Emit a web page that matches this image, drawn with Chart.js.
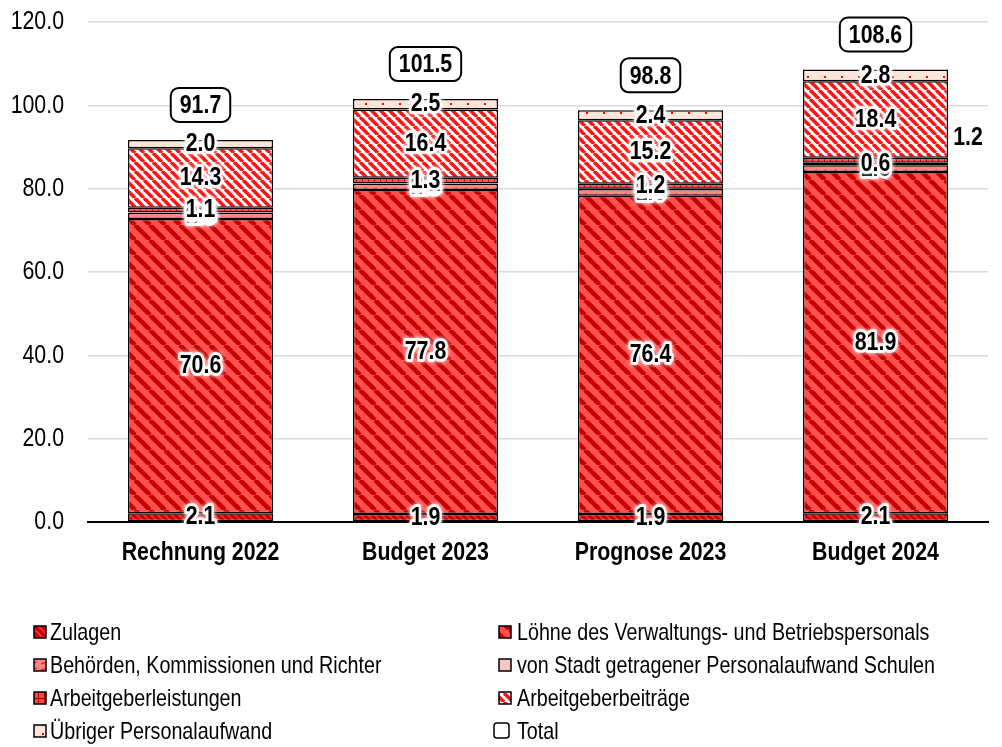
<!DOCTYPE html>
<html>
<head>
<meta charset="utf-8">
<script src="https://cdn.jsdelivr.net/npm/chart.js@4/dist/chart.umd.min.js"></script>
<style>
  html, body { margin: 0; padding: 0; background: #fff; }
  #wrap { width: 1002px; height: 747px; }
</style>
</head>
<body>
<div id="wrap"><canvas id="chart" width="1002" height="747"></canvas></div>
<script>
// Personalaufwand, Mio. Fr.
const categories = ['Rechnung 2022', 'Budget 2023', 'Prognose 2023', 'Budget 2024'];
const zulagen = [2.1, 1.9, 1.9, 2.1];
const loehne = [70.6, 77.8, 76.4, 81.9];
const behoerden = [1.5, 1.5, 1.6, 1.6];
const vonStadt = [0.1, 0.1, 0.1, 0.6];
const agLeistungen = [1.1, 1.3, 1.2, 1.2];
const agBeitraege = [14.3, 16.4, 15.2, 18.4];
const uebriger = [2.0, 2.5, 2.4, 2.8];
const total = [91.7, 101.5, 98.8, 108.6];
const yTicks = [0, 20, 40, 60, 80, 100, 120];

// no Arial Narrow here: draw Liberation Sans squeezed horizontally
const FONT = "'Liberation Sans', Arial, sans-serif";
const NARROW = 0.82;

function narrowText(ctx, text, x, y, font, align, halo) {
    ctx.save();
    ctx.font = font;
    ctx.textAlign = align;
    ctx.textBaseline = 'middle';
    ctx.translate(x, y);
    ctx.scale(NARROW, 1);
    if (halo) {
        ctx.lineJoin = 'round';
        ctx.strokeStyle = 'rgba(255,255,255,0.9)';
        ctx.lineWidth = 6;
        ctx.shadowColor = '#fff';
        ctx.shadowBlur = 4;
        ctx.strokeText(text, 0, 0);
        ctx.shadowBlur = 0;
    }
    ctx.fillStyle = '#000';
    ctx.fillText(text, 0, 0);
    ctx.restore();
}

// small canvas tiles used as fill patterns
function tile(w, h, draw) {
    const c = document.createElement('canvas');
    c.width = w; c.height = h;
    const g = c.getContext('2d');
    draw(g, w, h);
    return g.createPattern(c, 'repeat');
}
function stripes(size, base, color, width) {
    return tile(size, size, (g, s) => {
        g.fillStyle = base;
        g.fillRect(0, 0, s, s);
        g.strokeStyle = color;
        g.lineWidth = width;
        for (let o = -s; o <= s; o += s) {
            g.beginPath();
            g.moveTo(o, 0);
            g.lineTo(o + s, s);
            g.stroke();
        }
    });
}

const fills = {
    zulagen: stripes(7, '#c00000', '#ff2a2a', 2),
    loehne: stripes(15, '#ff5050', '#c40000', 4.5),
    behoerden: tile(10, 6, (g, w, h) => {
        g.fillStyle = '#ff8585'; g.fillRect(0, 0, w, h);
        g.strokeStyle = '#d01818'; g.lineWidth = 1.3;
        g.beginPath(); g.moveTo(1, 4); g.lineTo(7, 2); g.stroke();
    }),
    vonStadt: '#f8c6c6',
    agLeistungen: tile(6, 6, (g, w, h) => {
        g.fillStyle = '#ff4545'; g.fillRect(0, 0, w, h);
        g.fillStyle = '#a80000';
        g.fillRect(0, 2, w, 1); g.fillRect(2, 0, 1, h);
    }),
    agBeitraege: stripes(9, '#ffffff', '#ff1414', 3.6),
    uebriger: tile(17, 9, (g, w, h) => {
        g.fillStyle = '#fde6d8'; g.fillRect(0, 0, w, h);
        g.fillStyle = '#ff0000'; g.fillRect(8, 4, 2, 2);
    })
};

const barSets = [
    { label: 'Zulagen', data: zulagen, fill: fills.zulagen },
    { label: 'Löhne des Verwaltungs- und Betriebspersonals', data: loehne, fill: fills.loehne },
    { label: 'Behörden, Kommissionen und Richter', data: behoerden, fill: fills.behoerden },
    { label: 'von Stadt getragener Personalaufwand Schulen', data: vonStadt, fill: fills.vonStadt },
    { label: 'Arbeitgeberleistungen', data: agLeistungen, fill: fills.agLeistungen },
    { label: 'Arbeitgeberbeiträge', data: agBeitraege, fill: fills.agBeitraege },
    { label: 'Übriger Personalaufwand', data: uebriger, fill: fills.uebriger }
];

const datasets = barSets.map(s => ({
    type: 'bar',
    label: s.label,
    data: s.data,
    backgroundColor: s.fill,
    borderColor: '#000',
    borderWidth: 1.5,
    borderSkipped: false,
    barPercentage: 1,
    categoryPercentage: 0.645
}));
datasets.push({
    type: 'line',
    label: 'Total',
    data: total,
    showLine: false,
    pointRadius: 0,
    borderColor: 'transparent'
});

function roundRect(ctx, x, y, w, h, r) {
    ctx.beginPath();
    ctx.moveTo(x + r, y);
    ctx.arcTo(x + w, y, x + w, y + h, r);
    ctx.arcTo(x + w, y + h, x, y + h, r);
    ctx.arcTo(x, y + h, x, y, r);
    ctx.arcTo(x, y, x + w, y, r);
    ctx.closePath();
}

const BOLD = 'bold 26px ' + FONT;

const axisTextPlugin = {
    id: 'axisText',
    afterDraw(chart) {
        const ctx = chart.ctx;
        const xs = chart.scales.x, ys = chart.scales.y;
        yTicks.forEach(v => {
            narrowText(ctx, v.toFixed(1), 64, ys.getPixelForValue(v), '26px ' + FONT, 'right');
        });
        categories.forEach((c, j) => {
            narrowText(ctx, c, xs.getPixelForValue(j), 553, BOLD, 'center');
        });
    }
};

const labelPlugin = {
    id: 'labels',
    afterDatasetsDraw(chart) {
        const ctx = chart.ctx;
        chart.data.datasets.forEach((ds, i) => {
            const meta = chart.getDatasetMeta(i);
            meta.data.forEach((el, j) => {
                const text = ds.data[j].toFixed(1);
                if (ds.type === 'line') {
                    ctx.save();
                    ctx.font = BOLD;
                    const w = ctx.measureText(text).width * NARROW + 18;
                    const h = 34;
                    const cy = el.y - 35;
                    roundRect(ctx, el.x - w / 2, cy - h / 2, w, h, 8);
                    ctx.fillStyle = '#fff';
                    ctx.fill();
                    ctx.lineWidth = 2;
                    ctx.strokeStyle = '#000';
                    ctx.stroke();
                    ctx.restore();
                    narrowText(ctx, text, el.x, cy + 1, BOLD, 'center');
                    return;
                }
                const cy = (el.y + el.base) / 2;
                if (i === 4 && j === categories.length - 1) {
                    // label moved beside the bar in the original
                    narrowText(ctx, text, el.x + el.width / 2 + 20, cy - 23, BOLD, 'center');
                    return;
                }
                narrowText(ctx, text, el.x, cy, BOLD, 'center', true);
            });
        });
    }
};

const legendPlugin = {
    id: 'sideLegend',
    afterDraw(chart) {
        const ctx = chart.ctx;
        const rows = [632, 665, 698, 731];
        const cols = [{ box: 34, text: 50 }, { box: 499, text: 517 }];
        chart.data.datasets.forEach((ds, i) => {
            const col = cols[i % 2];
            const y = rows[Math.floor(i / 2)];
            ctx.save();
            if (ds.type === 'line') {
                roundRect(ctx, col.box - 5, y - 8, 15, 15, 3);
                ctx.fillStyle = '#fff';
                ctx.fill();
                ctx.lineWidth = 1.5;
                ctx.strokeStyle = '#000';
                ctx.stroke();
            } else {
                ctx.fillStyle = ds.backgroundColor;
                ctx.fillRect(col.box, y - 6, 12, 12);
                ctx.lineWidth = 1.5;
                ctx.strokeStyle = '#000';
                ctx.strokeRect(col.box, y - 6, 12, 12);
            }
            ctx.restore();
            narrowText(ctx, ds.label, col.text, y + 1, '24px ' + FONT, 'left');
        });
    }
};

new Chart(document.getElementById('chart').getContext('2d'), {
    data: { labels: categories, datasets: datasets },
    plugins: [labelPlugin, axisTextPlugin, legendPlugin],
    options: {
        responsive: false,
        animation: false,
        layout: { padding: { top: 22, right: 14, left: 0, bottom: 0 } },
        plugins: {
            legend: { display: false },
            tooltip: { enabled: false },
            title: { display: false }
        },
        scales: {
            x: {
                stacked: true,
                grid: { display: false },
                border: { color: '#000', width: 2 },
                ticks: { display: false },
                afterFit(scale) { scale.height = 225; }
            },
            y: {
                stacked: true,
                min: 0,
                max: 120,
                afterBuildTicks(scale) { scale.ticks = yTicks.map(v => ({ value: v })); },
                grid: { color: '#d9d9d9', lineWidth: 1.5, drawTicks: false },
                border: { display: false },
                ticks: { display: false },
                afterFit(scale) { scale.width = 88; }
            }
        }
    }
});
</script>
</body>
</html>
